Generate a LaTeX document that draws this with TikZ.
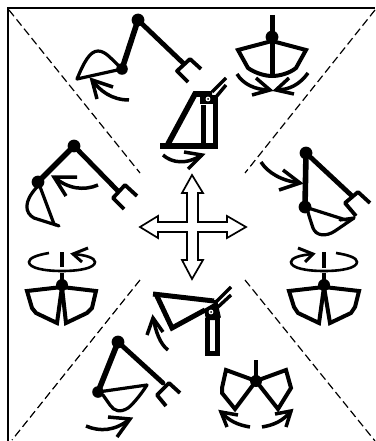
\documentclass[tikz,border=0pt]{standalone}
\tikzset{
  frameln/.style={line width=2.4pt},
  diag/.style={line width=1.2pt,dash pattern=on 8pt off 4pt},
  heavy/.style={line width=5.6pt,line cap=round,line join=miter},
  armln/.style={line width=4.8pt,line cap=round,line join=miter},
  bucket/.style={line width=3.2pt,line cap=round,line join=round},
  fork/.style={line width=3.8pt,line join=round},
  mover/.style={line width=3.5pt,line join=miter},
  shell/.style={line width=4pt,line join=miter},
  cross/.style={line width=1.7pt,line join=miter,fill=white},
  dot/.style={fill=black,draw=none}
}
\begin{document}
\begin{tikzpicture}[x=1pt,y=-1pt]
\useasboundingbox (0,0) rectangle (375,441);
% frame
\draw[frameln] (8,441) -- (8,8) -- (375,8);
% diagonals
\draw[diag] (9,10) -- (140,173);
\draw[diag] (375,10) -- (245,173);
\draw[diag] (140,280) -- (12,440);
\draw[diag] (245,280) -- (375,441);

% top-left excavator
\draw[heavy] (138,20) -- (122,69);
\draw[armln] (138,20) -- (183,63);
\fill[dot] (138,20) circle (6.4);
\fill[dot] (122,69) circle (5.8);
\draw[bucket] (122,69) -- (77,79) .. controls (84,62) and (90,51) .. (98,51) .. controls (106,51) and (112,60) .. (120,67);
\draw[fork] (201,69) -- (190,59) -- (177,71) -- (188,82);
\draw[mover] (129,100) .. controls (112,100) and (100,91) .. (92,80);
\draw[mover] (113,87) -- (92,80) -- (97,99);

% top centre boom
\draw[line width=5.6pt,line join=miter] (160,146) -- (218,146);
\draw[line width=5.6pt,line join=miter] (168,144) -- (195,94) -- (212,94);
\draw[line width=5pt] (215,96) -- (215,147);
\draw[line width=5pt] (203,105) -- (203,144);
\fill[dot] (200,95) -- (218,95) -- (218,104) -- (200,104) -- cycle;
\fill[white] (208,99) circle (2.4);
\fill[dot] (208,99) circle (1);
\draw[line width=3.4pt] (212,92) -- (226,78);
\draw[line width=3.4pt] (216,97) -- (226,85);
\draw[mover] (163,155) .. controls (172,163) and (186,165) .. (202,155);
\draw[mover] (184,152) -- (202,155) -- (188,169);

% top-right grab
\draw[line width=5pt] (272,15) -- (272,76);
\fill[dot] (272,37) circle (6.4);
\draw[shell] (272,41) -- (238,50) -- (248,68) .. controls (255,73) and (265,76) .. (272,76) .. controls (280,76) and (290,73) .. (296,68) -- (306,50) -- cycle;
\draw[mover] (237,74) .. controls (243,84) and (255,90) .. (270,90);
\draw[mover] (256,78) -- (270,90) -- (252,95);
\draw[mover] (308,73) .. controls (300,84) and (290,90) .. (276,90);
\draw[mover] (289,78) -- (276,90) -- (294,94);

% left excavator
\draw[heavy] (74,146) -- (38,182);
\draw[armln] (74,146) -- (117,190);
\fill[dot] (74,146) circle (6.4);
\fill[dot] (38,182) circle (6.4);
\draw[bucket] (39,184) -- (54,224) -- (59,226);
\draw[bucket] (56,225) -- (34,218) .. controls (25,213) and (23,202) .. (37,187);
\draw[fork] (137,196) -- (125,185) -- (113,198) -- (124,209);
\draw[mover] (98,185) .. controls (84,191) and (68,189) .. (54,177);
\draw[mover] (77,177) -- (54,177) -- (66,196);

% right excavator
\draw[heavy] (306,153) -- (305,207);
\draw[armln] (306,153) -- (351,195);
\fill[dot] (306,153) circle (6.4);
\fill[dot] (305,207) circle (6.4);
\draw[bucket] (305,207) -- (346,220);
\draw[bucket] (354,218) -- (335,231) .. controls (326,237) and (316,236) .. (313,228) .. controls (311,222) and (309,216) .. (308,212);
\draw[bucket] (340,220) -- (354,218);
\draw[fork] (370,203) -- (358,192) -- (345,203) -- (356,216);
\draw[mover] (261,162) .. controls (268,173) and (282,181) .. (300,183);
\draw[mover] (283,170) -- (300,183) -- (279,190);

% centre cross
\draw[cross] (192,175) -- (203,193) -- (198,193) -- (198,222) -- (227,222) -- (227,216) -- (246,227) -- (227,238) -- (227,232) -- (198,232) -- (198,260) -- (203,260) -- (192,279) -- (182,260) -- (187,260) -- (187,232) -- (158,232) -- (158,238) -- (140,227) -- (158,216) -- (158,222) -- (187,222) -- (187,193) -- (182,193) -- cycle;

% left rotary grab
\draw[line width=2.6pt] (49,253) .. controls (37,255) and (29,258) .. (29,262) .. controls (29,268) and (44,271) .. (62,271) .. controls (80,271) and (95,268) .. (95,262) .. controls (95,258) and (86,255) .. (73,254);
\draw[line width=3pt] (88,248) -- (73,254) -- (82,262);
\draw[line width=4.6pt] (62,252) -- (62,267);
\draw[line width=3.4pt] (62,273) -- (62,284);
\fill[dot] (62,285) circle (6);
\draw[shell] (62,287) -- (27,291) -- (32,308) -- (36,313) -- (57,323) -- cycle;
\draw[shell] (62,287) -- (96,291) -- (92,308) -- (87,313) -- (66,323) -- cycle;

% right rotary grab
\draw[line width=2.6pt] (336,253) .. controls (349,255) and (357,258) .. (357,262) .. controls (357,268) and (342,271) .. (324,271) .. controls (306,271) and (291,268) .. (291,262) .. controls (291,258) and (300,255) .. (313,254);
\draw[line width=3pt] (298,248) -- (313,254) -- (305,262);
\draw[line width=4.6pt] (324,252) -- (324,268);
\draw[line width=3.4pt] (324,273) -- (324,284);
\fill[dot] (324,285) circle (6);
\draw[shell] (324,287) -- (289,291) -- (294,307) -- (298,313) -- (319,323) -- cycle;
\draw[shell] (324,287) -- (359,291) -- (355,307) -- (351,313) -- (330,323) -- cycle;

% lower centre boom
\draw[line width=5pt,line join=miter] (153,294) -- (214,301);
\draw[line width=5pt,line join=miter] (156,294) -- (172,328) -- (205,310);
\draw[line width=4pt] (215,300) -- (219,318);
\fill[dot] (204,309) -- (216,302) -- (219,320) -- (206,320) -- cycle;
\draw[line width=5pt] (207.5,318) -- (207.5,353) -- (217.5,353) -- (217.5,316);
\fill[white] (211,312) circle (2.4);
\fill[dot] (211,312) circle (1);
\draw[line width=3.4pt] (216,302) -- (231,287);
\draw[line width=3.4pt] (218,307) -- (231,295);
\draw[mover] (168,350) .. controls (160,344) and (156,332) .. (153,318);
\draw[mover] (147,335) -- (153,318) -- (163,332);

% bottom-left excavator
\draw[heavy] (118,342) -- (98,392);
\draw[armln] (118,342) -- (163,383);
\fill[dot] (118,342) circle (6.4);
\fill[dot] (98,392) circle (5.8);
\draw[bucket] (98,392) -- (147,385) .. controls (140,396) and (132,405) .. (128,408) .. controls (120,413) and (114,411) .. (110,405) -- (103,395);
\draw[fork] (180,393) -- (169,383) -- (157,395) -- (166,406);
\draw[mover] (86,426) .. controls (100,432) and (115,431) .. (130,419);
\draw[mover] (108,417) -- (130,419) -- (117,437);

% bottom-right grab
\draw[line width=4.4pt] (256,360) -- (256,381);
\fill[dot] (256,381) circle (6);
\draw[shell] (256,381) -- (226,370) -- (222,388) -- (222,393) -- (235,409) -- cycle;
\draw[shell] (256,381) -- (286,370) -- (291,388) -- (278,409) -- cycle;
\draw[mover] (250,427) .. controls (238,425) and (229,421) .. (221,412);
\draw[mover] (238,415) -- (221,412) -- (227,427);
\draw[mover] (262,427) .. controls (274,425) and (283,421) .. (291,411);
\draw[mover] (275,414) -- (291,411) -- (286,427);
\end{tikzpicture}
\end{document}
